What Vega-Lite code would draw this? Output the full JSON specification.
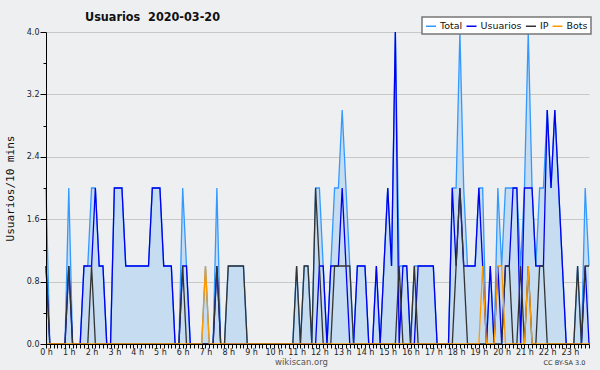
{
  "$schema": "https://vega.github.io/schema/vega-lite/v6.json",
  "width": 543,
  "height": 312,
  "autosize": {"type": "none"},
  "padding": {"left": 46, "top": 32, "right": 11, "bottom": 26},
  "background": "#eeeff1",
  "config": {
    "view": {"stroke": null, "fill": "#eeeff1"},
    "font": "DejaVu Sans",
    "legend": {
      "orient": "none", "legendX": 376, "legendY": -15, "direction": "horizontal",
      "symbolType": "stroke", "symbolSize": 100, "symbolStrokeWidth": 1.5,
      "labelFont": "DejaVu Sans", "labelFontSize": 9.5, "labelColor": "#111",
      "fillColor": "#ffffff", "strokeColor": "#777777", "strokeWidth": 1.5, "padding": 3,
      "columnPadding": 0.5, "labelOffset": 3, "title": null
    }
  },
  "title": {"text": "Usuarios\u00a0 2020-03-20", "anchor": "start", "frame": "group", "dx": 39, "dy": 17, "fontSize": 12.5, "font": "DejaVu Sans Condensed, DejaVu Sans", "fontWeight": "bold", "color": "#111111", "offset": 10},
  "data": {"values": [
    {"m":0,"Total":2,"Usuarios":1,"IP":1,"Bots":0},
    {"m":10,"Total":0,"Usuarios":0,"IP":0,"Bots":0},
    {"m":20,"Total":0,"Usuarios":0,"IP":0,"Bots":0},
    {"m":30,"Total":0,"Usuarios":0,"IP":0,"Bots":0},
    {"m":40,"Total":0,"Usuarios":0,"IP":0,"Bots":0},
    {"m":50,"Total":0,"Usuarios":0,"IP":0,"Bots":0},
    {"m":60,"Total":2,"Usuarios":1,"IP":1,"Bots":0},
    {"m":70,"Total":0,"Usuarios":0,"IP":0,"Bots":0},
    {"m":80,"Total":0,"Usuarios":0,"IP":0,"Bots":0},
    {"m":90,"Total":0,"Usuarios":0,"IP":0,"Bots":0},
    {"m":100,"Total":1,"Usuarios":1,"IP":0,"Bots":0},
    {"m":110,"Total":1,"Usuarios":1,"IP":0,"Bots":0},
    {"m":120,"Total":2,"Usuarios":1,"IP":1,"Bots":0},
    {"m":130,"Total":2,"Usuarios":2,"IP":0,"Bots":0},
    {"m":140,"Total":1,"Usuarios":1,"IP":0,"Bots":0},
    {"m":150,"Total":1,"Usuarios":1,"IP":0,"Bots":0},
    {"m":160,"Total":0,"Usuarios":0,"IP":0,"Bots":0},
    {"m":170,"Total":0,"Usuarios":0,"IP":0,"Bots":0},
    {"m":180,"Total":2,"Usuarios":2,"IP":0,"Bots":0},
    {"m":190,"Total":2,"Usuarios":2,"IP":0,"Bots":0},
    {"m":200,"Total":2,"Usuarios":2,"IP":0,"Bots":0},
    {"m":210,"Total":1,"Usuarios":1,"IP":0,"Bots":0},
    {"m":220,"Total":1,"Usuarios":1,"IP":0,"Bots":0},
    {"m":230,"Total":1,"Usuarios":1,"IP":0,"Bots":0},
    {"m":240,"Total":1,"Usuarios":1,"IP":0,"Bots":0},
    {"m":250,"Total":1,"Usuarios":1,"IP":0,"Bots":0},
    {"m":260,"Total":1,"Usuarios":1,"IP":0,"Bots":0},
    {"m":270,"Total":1,"Usuarios":1,"IP":0,"Bots":0},
    {"m":280,"Total":2,"Usuarios":2,"IP":0,"Bots":0},
    {"m":290,"Total":2,"Usuarios":2,"IP":0,"Bots":0},
    {"m":300,"Total":2,"Usuarios":2,"IP":0,"Bots":0},
    {"m":310,"Total":1,"Usuarios":1,"IP":0,"Bots":0},
    {"m":320,"Total":1,"Usuarios":1,"IP":0,"Bots":0},
    {"m":330,"Total":1,"Usuarios":1,"IP":0,"Bots":0},
    {"m":340,"Total":0,"Usuarios":0,"IP":0,"Bots":0},
    {"m":350,"Total":0,"Usuarios":0,"IP":0,"Bots":0},
    {"m":360,"Total":2,"Usuarios":1,"IP":1,"Bots":0},
    {"m":370,"Total":1,"Usuarios":1,"IP":0,"Bots":0},
    {"m":380,"Total":0,"Usuarios":0,"IP":0,"Bots":0},
    {"m":390,"Total":0,"Usuarios":0,"IP":0,"Bots":0},
    {"m":400,"Total":0,"Usuarios":0,"IP":0,"Bots":0},
    {"m":410,"Total":0,"Usuarios":0,"IP":0,"Bots":0},
    {"m":420,"Total":1,"Usuarios":0,"IP":0,"Bots":1},
    {"m":430,"Total":0,"Usuarios":0,"IP":0,"Bots":0},
    {"m":440,"Total":0,"Usuarios":0,"IP":0,"Bots":0},
    {"m":450,"Total":2,"Usuarios":1,"IP":1,"Bots":0},
    {"m":460,"Total":0,"Usuarios":0,"IP":0,"Bots":0},
    {"m":470,"Total":0,"Usuarios":0,"IP":0,"Bots":0},
    {"m":480,"Total":1,"Usuarios":0,"IP":1,"Bots":0},
    {"m":490,"Total":1,"Usuarios":0,"IP":1,"Bots":0},
    {"m":500,"Total":1,"Usuarios":0,"IP":1,"Bots":0},
    {"m":510,"Total":1,"Usuarios":0,"IP":1,"Bots":0},
    {"m":520,"Total":1,"Usuarios":0,"IP":1,"Bots":0},
    {"m":530,"Total":0,"Usuarios":0,"IP":0,"Bots":0},
    {"m":540,"Total":0,"Usuarios":0,"IP":0,"Bots":0},
    {"m":550,"Total":0,"Usuarios":0,"IP":0,"Bots":0},
    {"m":560,"Total":0,"Usuarios":0,"IP":0,"Bots":0},
    {"m":570,"Total":0,"Usuarios":0,"IP":0,"Bots":0},
    {"m":580,"Total":0,"Usuarios":0,"IP":0,"Bots":0},
    {"m":590,"Total":0,"Usuarios":0,"IP":0,"Bots":0},
    {"m":600,"Total":0,"Usuarios":0,"IP":0,"Bots":0},
    {"m":610,"Total":0,"Usuarios":0,"IP":0,"Bots":0},
    {"m":620,"Total":0,"Usuarios":0,"IP":0,"Bots":0},
    {"m":630,"Total":0,"Usuarios":0,"IP":0,"Bots":0},
    {"m":640,"Total":0,"Usuarios":0,"IP":0,"Bots":0},
    {"m":650,"Total":0,"Usuarios":0,"IP":0,"Bots":0},
    {"m":660,"Total":1,"Usuarios":0,"IP":1,"Bots":0},
    {"m":670,"Total":0,"Usuarios":0,"IP":0,"Bots":0},
    {"m":680,"Total":1,"Usuarios":0,"IP":1,"Bots":0},
    {"m":690,"Total":1,"Usuarios":0,"IP":1,"Bots":0},
    {"m":700,"Total":0,"Usuarios":0,"IP":0,"Bots":0},
    {"m":710,"Total":2,"Usuarios":0,"IP":2,"Bots":0},
    {"m":720,"Total":2,"Usuarios":1,"IP":1,"Bots":0},
    {"m":730,"Total":1,"Usuarios":1,"IP":0,"Bots":0},
    {"m":740,"Total":0,"Usuarios":0,"IP":0,"Bots":0},
    {"m":750,"Total":1,"Usuarios":1,"IP":0,"Bots":0},
    {"m":760,"Total":2,"Usuarios":1,"IP":1,"Bots":0},
    {"m":770,"Total":2,"Usuarios":1,"IP":1,"Bots":0},
    {"m":780,"Total":3,"Usuarios":2,"IP":1,"Bots":0},
    {"m":790,"Total":2,"Usuarios":1,"IP":1,"Bots":0},
    {"m":800,"Total":1,"Usuarios":0,"IP":1,"Bots":0},
    {"m":810,"Total":0,"Usuarios":0,"IP":0,"Bots":0},
    {"m":820,"Total":1,"Usuarios":1,"IP":0,"Bots":0},
    {"m":830,"Total":1,"Usuarios":1,"IP":0,"Bots":0},
    {"m":840,"Total":1,"Usuarios":1,"IP":0,"Bots":0},
    {"m":850,"Total":0,"Usuarios":0,"IP":0,"Bots":0},
    {"m":860,"Total":0,"Usuarios":0,"IP":0,"Bots":0},
    {"m":870,"Total":1,"Usuarios":1,"IP":0,"Bots":0},
    {"m":880,"Total":0,"Usuarios":0,"IP":0,"Bots":0},
    {"m":890,"Total":1,"Usuarios":1,"IP":0,"Bots":0},
    {"m":900,"Total":2,"Usuarios":2,"IP":0,"Bots":0},
    {"m":910,"Total":1,"Usuarios":1,"IP":0,"Bots":0},
    {"m":920,"Total":4,"Usuarios":4,"IP":0,"Bots":0},
    {"m":930,"Total":1,"Usuarios":0,"IP":1,"Bots":0},
    {"m":940,"Total":1,"Usuarios":1,"IP":0,"Bots":0},
    {"m":950,"Total":1,"Usuarios":1,"IP":0,"Bots":0},
    {"m":960,"Total":0,"Usuarios":0,"IP":0,"Bots":0},
    {"m":970,"Total":1,"Usuarios":0,"IP":1,"Bots":0},
    {"m":980,"Total":1,"Usuarios":1,"IP":0,"Bots":0},
    {"m":990,"Total":1,"Usuarios":1,"IP":0,"Bots":0},
    {"m":1000,"Total":1,"Usuarios":1,"IP":0,"Bots":0},
    {"m":1010,"Total":1,"Usuarios":1,"IP":0,"Bots":0},
    {"m":1020,"Total":1,"Usuarios":1,"IP":0,"Bots":0},
    {"m":1030,"Total":0,"Usuarios":0,"IP":0,"Bots":0},
    {"m":1040,"Total":0,"Usuarios":0,"IP":0,"Bots":0},
    {"m":1050,"Total":0,"Usuarios":0,"IP":0,"Bots":0},
    {"m":1060,"Total":0,"Usuarios":0,"IP":0,"Bots":0},
    {"m":1070,"Total":2,"Usuarios":2,"IP":0,"Bots":0},
    {"m":1080,"Total":2,"Usuarios":1,"IP":1,"Bots":0},
    {"m":1090,"Total":4,"Usuarios":2,"IP":2,"Bots":0},
    {"m":1100,"Total":2,"Usuarios":1,"IP":1,"Bots":0},
    {"m":1110,"Total":1,"Usuarios":1,"IP":0,"Bots":0},
    {"m":1120,"Total":1,"Usuarios":1,"IP":0,"Bots":0},
    {"m":1130,"Total":1,"Usuarios":1,"IP":0,"Bots":0},
    {"m":1140,"Total":2,"Usuarios":2,"IP":0,"Bots":0},
    {"m":1150,"Total":2,"Usuarios":1,"IP":0,"Bots":1},
    {"m":1160,"Total":0,"Usuarios":0,"IP":0,"Bots":0},
    {"m":1170,"Total":1,"Usuarios":1,"IP":0,"Bots":0},
    {"m":1180,"Total":0,"Usuarios":0,"IP":0,"Bots":0},
    {"m":1190,"Total":2,"Usuarios":1,"IP":0,"Bots":1},
    {"m":1200,"Total":1,"Usuarios":0,"IP":0,"Bots":1},
    {"m":1210,"Total":2,"Usuarios":1,"IP":1,"Bots":0},
    {"m":1220,"Total":2,"Usuarios":1,"IP":1,"Bots":0},
    {"m":1230,"Total":2,"Usuarios":2,"IP":0,"Bots":0},
    {"m":1240,"Total":2,"Usuarios":2,"IP":0,"Bots":0},
    {"m":1250,"Total":1,"Usuarios":0,"IP":1,"Bots":0},
    {"m":1260,"Total":2,"Usuarios":2,"IP":0,"Bots":0},
    {"m":1270,"Total":4,"Usuarios":2,"IP":1,"Bots":1},
    {"m":1280,"Total":2,"Usuarios":2,"IP":0,"Bots":0},
    {"m":1290,"Total":1,"Usuarios":1,"IP":0,"Bots":0},
    {"m":1300,"Total":2,"Usuarios":1,"IP":1,"Bots":0},
    {"m":1310,"Total":2,"Usuarios":1,"IP":1,"Bots":0},
    {"m":1320,"Total":3,"Usuarios":3,"IP":0,"Bots":0},
    {"m":1330,"Total":2,"Usuarios":2,"IP":0,"Bots":0},
    {"m":1340,"Total":3,"Usuarios":3,"IP":0,"Bots":0},
    {"m":1350,"Total":2,"Usuarios":2,"IP":0,"Bots":0},
    {"m":1360,"Total":1,"Usuarios":1,"IP":0,"Bots":0},
    {"m":1370,"Total":0,"Usuarios":0,"IP":0,"Bots":0},
    {"m":1380,"Total":0,"Usuarios":0,"IP":0,"Bots":0},
    {"m":1390,"Total":0,"Usuarios":0,"IP":0,"Bots":0},
    {"m":1400,"Total":1,"Usuarios":0,"IP":1,"Bots":0},
    {"m":1410,"Total":0,"Usuarios":0,"IP":0,"Bots":0},
    {"m":1420,"Total":2,"Usuarios":1,"IP":1,"Bots":0},
    {"m":1430,"Total":1,"Usuarios":0,"IP":1,"Bots":0}
  ]},
  "transform": [{"fold": ["Total", "Usuarios", "IP", "Bots"], "as": ["serie", "v"]}],
  "layer": [
    {
      "transform": [{"filter": "datum.serie == 'Total'"}],
      "mark": {"type": "area", "color": "#c6dcf0", "opacity": 1},
      "encoding": {
        "x": {"field": "m", "type": "quantitative", "scale": {"domain": [0, 1430], "nice": false, "zero": false},
          "axis": {"orient": "bottom", "values": [0,10,20,30,40,50,60,70,80,90,100,110,120,130,140,150,160,170,180,190,200,210,220,230,240,250,260,270,280,290,300,310,320,330,340,350,360,370,380,390,400,410,420,430,440,450,460,470,480,490,500,510,520,530,540,550,560,570,580,590,600,610,620,630,640,650,660,670,680,690,700,710,720,730,740,750,760,770,780,790,800,810,820,830,840,850,860,870,880,890,900,910,920,930,940,950,960,970,980,990,1000,1010,1020,1030,1040,1050,1060,1070,1080,1090,1100,1110,1120,1130,1140,1150,1160,1170,1180,1190,1200,1210,1220,1230,1240,1250,1260,1270,1280,1290,1300,1310,1320,1330,1340,1350,1360,1370,1380,1390,1400,1410,1420,1430],
            "labelExpr": "datum.value % 60 == 0 ? (datum.value / 60) + ' h' : ''",
            "labelOverlap": false, "labelFontSize": 8, "labelColor": "#222222", "labelPadding": 0, "labelFlush": false,
            "tickSize": 4, "tickColor": "#000000", "domainColor": "#000000", "grid": false,
            "title": "wikiscan.org", "titleFontSize": 8.5, "titleFontWeight": "normal", "titleColor": "#555555",
            "titleX": 255, "titleY": 17, "titleBaseline": "middle", "zindex": 1}},
        "y": {"field": "v", "type": "quantitative", "scale": {"domain": [0, 4], "nice": false},
          "axis": {"orient": "left", "values": [0,0.4,0.8,1.2,1.6,2,2.4,2.8,3.2,3.6,4],
            "labelExpr": "abs(datum.value / 0.8 - round(datum.value / 0.8)) < 0.001 ? format(datum.value, '.1f') : ''",
            "labelOverlap": false, "labelFontSize": 8, "labelColor": "#222222", "labelPadding": 1,
            "tickSize": {"condition": {"test": "abs(datum.value / 0.8 - round(datum.value / 0.8)) < 0.001", "value": 6}, "value": 3},
            "tickColor": "#000000", "domainColor": "#000000", "grid": false,
            "title": "Usuarios/10 mins", "titleFont": "DejaVu Sans Mono", "titleFontSize": 11, "titleFontWeight": "normal",
            "titleColor": "#111111", "titleX": -36, "titleY": 156, "titleAngle": -90, "titleBaseline": "middle", "titleAlign": "center", "zindex": 1}}
      }
    },
    {
      "transform": [{"filter": "datum.serie == 'Total'"}],
      "mark": {"type": "line", "strokeWidth": 1.3},
      "encoding": {
        "x": {"field": "m", "type": "quantitative", "axis": null},
        "y": {"field": "v", "type": "quantitative",
          "axis": {"orient": "left", "values": [0,0.8,1.6,2.4,3.2,4], "grid": true, "gridColor": "#c8c8c8", "gridWidth": 1,
            "domain": false, "ticks": false, "labels": false, "title": null, "zindex": 0}},
        "color": {"field": "serie", "type": "nominal", "scale": {"domain": ["Total", "Usuarios", "IP", "Bots"], "range": ["#3399ff", "#0000ee", "#333333", "#ff9900"]}}
      }
    },
    {
      "transform": [{"filter": "datum.serie == 'Usuarios'"}],
      "mark": {"type": "line", "strokeWidth": 1.3},
      "encoding": {
        "x": {"field": "m", "type": "quantitative", "axis": null},
        "y": {"field": "v", "type": "quantitative", "axis": null},
        "color": {"field": "serie", "type": "nominal"}
      }
    },
    {
      "transform": [{"filter": "datum.serie == 'IP'"}],
      "mark": {"type": "line", "strokeWidth": 1.3},
      "encoding": {
        "x": {"field": "m", "type": "quantitative", "axis": null},
        "y": {"field": "v", "type": "quantitative", "axis": null},
        "color": {"field": "serie", "type": "nominal"}
      }
    },
    {
      "transform": [{"filter": "datum.serie == 'Bots'"}],
      "mark": {"type": "line", "strokeWidth": 1.3},
      "encoding": {
        "x": {"field": "m", "type": "quantitative",
          "axis": {"orient": "bottom", "labels": false, "ticks": false, "domain": false, "grid": false,
            "title": "CC BY-SA 3.0", "titleFontSize": 6.5, "titleFontWeight": "normal", "titleColor": "#333333",
            "titleX": 518, "titleY": 18, "titleBaseline": "middle"}},
        "y": {"field": "v", "type": "quantitative", "axis": null},
        "color": {"field": "serie", "type": "nominal"}
      }
    }
  ],
  "resolve": {"axis": {"x": "independent", "y": "independent"}}
}
